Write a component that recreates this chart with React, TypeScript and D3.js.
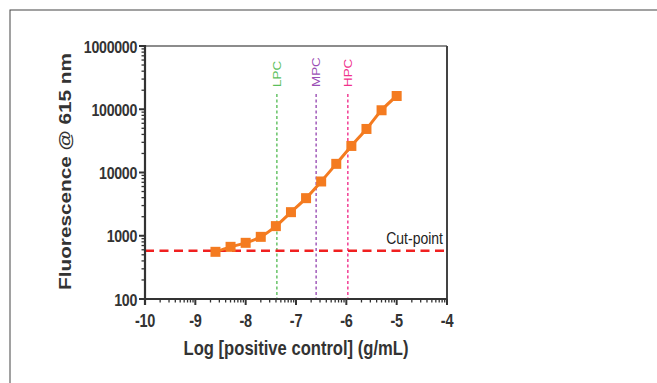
import * as d3 from "d3";

const concentrations = [-8.6, -8.3, -8.0, -7.7, -7.4, -7.1, -6.8, -6.5, -6.2, -5.9, -5.6, -5.3, -5.0];
const fluorescence = [557, 668, 773, 961, 1420, 2360, 3930, 7210, 13700, 26300, 48800, 96400, 162000];
const cutPoint = 580;
const controls = [
  { label: "LPC", x: -7.38, color: "#5cbf5c" },
  { label: "MPC", x: -6.6, color: "#9b4fb5" },
  { label: "HPC", x: -5.97, color: "#f0308c" },
];
const xTicks = [-10, -9, -8, -7, -6, -5, -4];
const yTicks = [100, 1000, 10000, 100000, 1000000];

const W = 657;
const H = 383;
const mg = { left: 145, right: 210, top: 46, bottom: 84 };
const font = "'Liberation Sans', Arial, sans-serif";
const ink = "#333";
// the source picture is stretched vertically, so glyphs are taller than wide
const SY = 1.22;

export default function App() {
  const x = d3.scaleLinear([-10, -4], [mg.left, W - mg.right]);
  const y = d3.scaleLog([100, 1000000], [H - mg.bottom, mg.top]);
  const base = H - mg.bottom;

  const xMinor: number[] = [];
  for (let i = -10; i < -4; i++) {
    for (let k = 2; k <= 9; k++) xMinor.push(i + Math.log10(k));
  }
  const yMinor: number[] = [];
  for (let e = 2; e < 6; e++) {
    for (let k = 2; k <= 9; k++) yMinor.push(k * Math.pow(10, e));
  }

  const pts = concentrations.map((c, i) => [x(c), y(fluorescence[i])] as [number, number]);
  const line = d3.line().curve(d3.curveMonotoneX)(pts) ?? "";

  return (
    <div style={{ position: "absolute", left: 0, top: 0 }}>
      <svg width={W} height={H} style={{ display: "block", fontFamily: font }}>
        <rect x={0} y={0} width={W} height={H} fill="#fff" />
        <rect x={10} y={10} width={W + 20} height={H + 20} fill="none" stroke="#444" strokeWidth={1} />

        {/* frame top/right */}
        <line x1={mg.left} y1={mg.top} x2={W - mg.right} y2={mg.top} stroke="#666" strokeWidth={1.6} />
        <line x1={W - mg.right} y1={mg.top} x2={W - mg.right} y2={base} stroke="#444" strokeWidth={2} />

        {/* control lines */}
        {controls.map((c) => (
          <g key={c.label}>
            <line
              x1={x(c.x)}
              x2={x(c.x)}
              y1={94}
              y2={base}
              stroke={c.color}
              strokeWidth={1.4}
              strokeDasharray="3 2.5"
            />
            <text
              transform={`translate(${x(c.x) + 4},87) rotate(-90) scale(${SY},1)`}
              fontSize={11}
              fill={c.color}
            >
              {c.label}
            </text>
          </g>
        ))}

        {/* cut-point */}
        <line
          x1={mg.left}
          x2={W - mg.right}
          y1={y(cutPoint)}
          y2={y(cutPoint)}
          stroke="#f02020"
          strokeWidth={2.4}
          strokeDasharray="9 5.5"
        />
        <text
          transform={`translate(${W - mg.right - 4},${y(cutPoint) - 7}) scale(1,${SY})`}
          textAnchor="end"
          fontSize={14}
          fill="#222"
        >
          Cut-point
        </text>

        {/* data */}
        <path d={line} fill="none" stroke="#f47b20" strokeWidth={3} />
        {pts.map(([px, py], i) => (
          <rect key={i} x={px - 5} y={py - 5} width={10} height={10} fill="#f47b20" />
        ))}

        {/* axes */}
        <line x1={mg.left} y1={base} x2={W - mg.right} y2={base} stroke={ink} strokeWidth={2.2} />
        <line x1={mg.left} y1={mg.top - 1} x2={mg.left} y2={base + 6} stroke={ink} strokeWidth={2.2} />

        {xTicks.map((t) => (
          <g key={t}>
            <line x1={x(t)} x2={x(t)} y1={base} y2={base + 6} stroke={ink} strokeWidth={2} />
            <text
              transform={`translate(${x(t)},${base + 28}) scale(1,${SY})`}
              textAnchor="middle"
              fontSize={14.5}
              fontWeight="bold"
              fill={ink}
              letterSpacing={-0.3}
            >
              {t}
            </text>
          </g>
        ))}
        {xMinor.map((t, i) => (
          <line key={i} x1={x(t)} x2={x(t)} y1={base} y2={base + 3.5} stroke={ink} strokeWidth={1.3} />
        ))}

        {yTicks.map((t) => (
          <g key={t}>
            <line x1={mg.left - 6} x2={mg.left} y1={y(t)} y2={y(t)} stroke={ink} strokeWidth={2} />
            <text
              transform={`translate(${mg.left - 8},${y(t) + 6.5}) scale(1,${SY})`}
              textAnchor="end"
              fontSize={14.2}
              fontWeight="bold"
              fill={ink}
              letterSpacing={-0.3}
            >
              {t}
            </text>
          </g>
        ))}
        {yMinor.map((t, i) => (
          <line key={i} x1={mg.left - 3.5} x2={mg.left} y1={y(t)} y2={y(t)} stroke={ink} strokeWidth={1.3} />
        ))}

        <text
          transform={`translate(${(mg.left + W - mg.right) / 2},355) scale(1,${SY})`}
          textAnchor="middle"
          fontSize={16.6}
          fontWeight="bold"
          fill={ink}
        >
          Log [positive control] (g/mL)
        </text>
        <text
          transform={`translate(71,${(mg.top + base) / 2 - 1}) rotate(-90) scale(${SY},1)`}
          textAnchor="middle"
          fontSize={17}
          fontWeight="bold"
          fill={ink}
        >
          Fluorescence @ 615 nm
        </text>
      </svg>
    </div>
  );
}
